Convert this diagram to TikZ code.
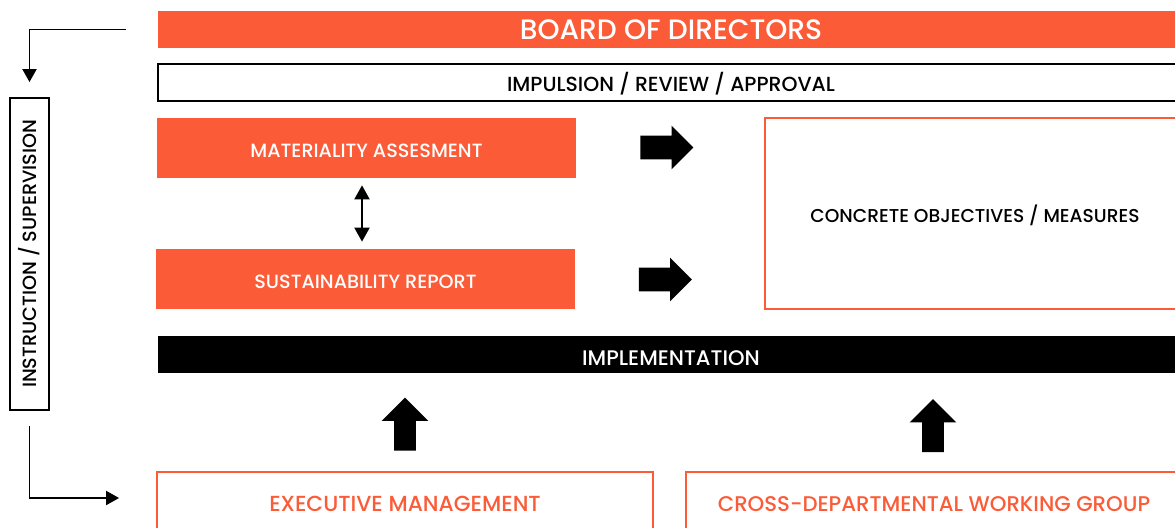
\documentclass[tikz,border=0pt]{standalone}
\usepackage{fontspec}
\IfFontExistsTF{Poppins Medium}{\setmainfont{Poppins Medium}}{\setmainfont{Poppins}[FakeBold=1.2,AutoFakeBold=1.2]}
\usetikzlibrary{arrows.meta,shapes.arrows}
\definecolor{brandorange}{HTML}{FB5B37}
\begin{document}
\begin{tikzpicture}[x=0.02cm, y=-0.02cm,
        bar/.style={minimum width=20.52cm, minimum height=0.74cm, inner sep=0pt},
        orangebox/.style={fill=brandorange, text=white, minimum width=8.38cm, minimum height=1.2cm, inner sep=0pt, text height=0.39cm, text depth=0pt, font=\fontsize{10.9}{12}\selectfont},
        linebox/.style={draw=brandorange, line width=1.1pt, inner sep=0pt},
        blockarrow/.style={single arrow, fill=black, inner xsep=0pt, inner ysep=0.23cm, single arrow head extend=0.2cm, single arrow head indent=0pt, minimum height=1.06cm},
        uparrow/.style={blockarrow, rotate=90, inner ysep=0.21cm, single arrow head extend=0.25cm},
        flow/.style={line width=1.1pt, -{Triangle[length=0.26cm, width=0.28cm]}}]
    \useasboundingbox (0,0) rectangle (1175,527);
    \clip (0,0) rectangle (1175,527);
    \node[bar, fill=brandorange, text=white, font=\fontsize{16}{18}\selectfont] (board) at (671,29.5) {BOARD OF DIRECTORS};
    \node[bar, draw=black, line width=1.1pt, text height=0.37cm, text depth=0pt, font=\fontsize{11.6}{13}\selectfont] (impulse) at (671,82.5) {IMPULSION / REVIEW / APPROVAL};
    \node[orangebox] (mat) at (366.5,148) {MATERIALITY ASSESMENT};
    \node[orangebox] (sus) at (365.5,279) {SUSTAINABILITY REPORT};
    \node[linebox, minimum width=8.4cm, minimum height=3.82cm, text height=0.34cm, text depth=0pt, font=\fontsize{10.6}{12}\selectfont] (goals) at (975,213.5) {CONCRETE OBJECTIVES / MEASURES};
    \node[bar, fill=black, text=white, text height=0.42cm, text depth=0pt, font=\fontsize{12}{14}\selectfont] (impl) at (671,354.5) {IMPLEMENTATION};
    \node[linebox, text=brandorange, minimum width=9.92cm, minimum height=1.28cm, font=\fontsize{12.4}{14}\selectfont] (exec) at (405,504) {EXECUTIVE MANAGEMENT};
    \node[linebox, text=brandorange, minimum width=9.92cm, minimum height=1.28cm, font=\fontsize{12.1}{14}\selectfont] (cross) at (934,504) {CROSS-DEPARTMENTAL WORKING GROUP};
    \node[draw=black, line width=1.1pt, rotate=90, minimum width=6.24cm, minimum height=0.78cm, inner sep=0pt, font=\fontsize{10.9}{12}\selectfont] (instr) at (29.5,254) {INSTRUCTION / SUPERVISION};
    % block arrows
    \node[blockarrow] (matarrow) at (661,147.5) {};
    \node[blockarrow] (susarrow) at (659.5,279.5) {};
    \node[uparrow] (execarrow) at (405,429.5) {};
    \node[uparrow] (crossarrow) at (933,431) {};
    % connectors
    \draw[line width=1.1pt, {Triangle[length=0.28cm, width=0.3cm]}-{Triangle[length=0.28cm, width=0.3cm]}, shorten <=7*0.02cm, shorten >=7*0.02cm] (mat.south -| 362,0) -- (sus.north -| 362,0);
    \draw[flow, shorten <=0.64cm, shorten >=0.3cm] (board.west) -| (instr.east);
    \draw[flow, shorten <=0.3cm, shorten >=0.74cm] (instr.west) |- ([yshift=0.12cm]exec.west);
\end{tikzpicture}
\end{document}
